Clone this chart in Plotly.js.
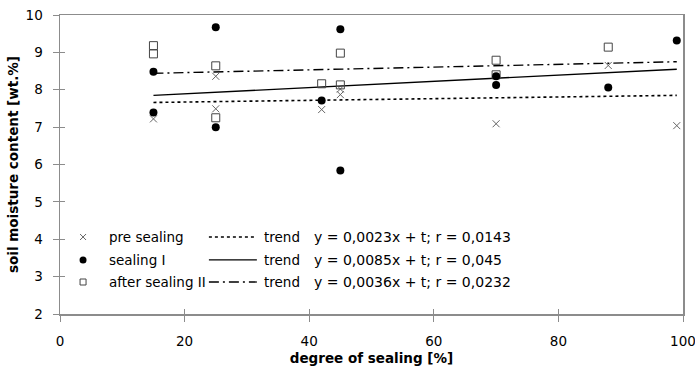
<!DOCTYPE html>
<html>
<head>
<meta charset="utf-8">
<script src="https://cdn.plot.ly/plotly-3.0.1.min.js"></script>
<style>html,body{margin:0;padding:0;background:#fff;}#chart{width:695px;height:376px;}</style>
</head>
<body>
<div id="chart"></div>
<script>
// ---- data ----
const preX   = [15, 25, 25, 42, 45, 45, 70, 88, 99];
const preY   = [7.22, 8.36, 7.49, 7.47, 8.02, 7.87, 7.09, 8.65, 7.04];
const sealX  = [15, 15, 25, 25, 42, 45, 45, 70, 70, 88, 99];
const sealY  = [8.48, 7.39, 9.67, 7.0, 7.71, 9.62, 5.84, 8.36, 8.13, 8.06, 9.32];
const afterX = [15, 15, 25, 25, 42, 45, 45, 70, 70, 88];
const afterY = [9.18, 8.96, 8.64, 7.25, 8.16, 8.98, 8.13, 8.79, 8.40, 9.14];
const trendX     = [15, 99];
const trendPre   = [7.66, 7.85];
const trendSeal  = [7.85, 8.55];
const trendAfter = [8.44, 8.75];
const seriesNames = ["pre sealing", "sealing I", "after sealing II"];
const trendLabels = ["y = 0,0023x + t; r = 0,0143", "y = 0,0085x + t; r = 0,045", "y = 0,0036x + t; r = 0,0232"];
const xTicks = [0, 20, 40, 60, 80, 100];
const yTicks = [2, 3, 4, 5, 6, 7, 8, 9, 10];

// ---- styles ----
const FONT = "DejaVu Sans, Arial, sans-serif";
const AX = "#8c8c8c";
const markerPre   = {symbol: "x-thin-open", size: 7, color: "#666", line: {color: "#666", width: 1}};
const markerSeal  = {symbol: "circle", size: 8, color: "#000"};
const markerAfter = {symbol: "square-open", size: 8, color: "#444", line: {color: "#444", width: 1}};
const linePre   = {color: "#000", width: 1.6, dash: "dot"};
const lineSeal  = {color: "#000", width: 1.4, dash: "solid"};
const lineAfter = {color: "#000", width: 1.4, dash: "10px,4px,2px,4px"};

const traces = [
  {x: trendX, y: trendPre, mode: "lines", line: linePre, hoverinfo: "skip"},
  {x: trendX, y: trendSeal, mode: "lines", line: lineSeal, hoverinfo: "skip"},
  {x: trendX, y: trendAfter, mode: "lines", line: lineAfter, hoverinfo: "skip"},
  {x: preX, y: preY, mode: "markers", marker: markerPre, name: seriesNames[0]},
  {x: afterX, y: afterY, mode: "markers", marker: markerAfter, name: seriesNames[2]},
  {x: sealX, y: sealY, mode: "markers", marker: markerSeal, name: seriesNames[1]}
];

// legend geometry (paper coords)
const rowsY = [0.2575, 0.181, 0.107];
const legMarkX = 0.037, legTextX = 0.0755, legLine0 = 0.239, legLine1 = 0.316, legTrendX = 0.324, legEqX = 0.405;
const legMarkers = [markerPre, markerSeal, markerAfter];
legMarkers.forEach((m, i) => {
  traces.push({x: [legMarkX], y: [rowsY[i]], xaxis: "x2", yaxis: "y2", mode: "markers",
    marker: Object.assign({}, m, i === 1 ? {size: 7} : {size: 6}), hoverinfo: "skip"});
});
// dummy trace to activate crossing-tick overlay axes
traces.push({x: [null], y: [null], xaxis: "x3", yaxis: "y3", mode: "markers", hoverinfo: "skip"});

const shapes = [];
const legLines = [linePre, lineSeal, lineAfter];
const annotations = [];
rowsY.forEach((yy, i) => {
  shapes.push({type: "line", xref: "paper", yref: "paper", x0: legLine0, x1: legLine1, y0: yy, y1: yy,
    line: Object.assign({}, legLines[i], {width: 1.3})});
  annotations.push({xref: "paper", yref: "paper", x: legTextX, y: yy, text: seriesNames[i], showarrow: false,
    xanchor: "left", yanchor: "middle", font: {family: FONT, size: 13.5, color: "#000"}});
  annotations.push({xref: "paper", yref: "paper", x: legTrendX, y: yy, text: "trend", showarrow: false,
    xanchor: "left", yanchor: "middle", font: {family: FONT, size: 13.5, color: "#000"}});
  annotations.push({xref: "paper", yref: "paper", x: legEqX, y: yy, text: trendLabels[i], showarrow: false,
    xanchor: "left", yanchor: "middle", font: {family: FONT, size: 14, color: "#000"}});
});

const layout = {
  width: 695, height: 376,
  margin: {l: 60, r: 12, t: 15, b: 62},
  paper_bgcolor: "#fff", plot_bgcolor: "#fff",
  showlegend: false,
  font: {family: FONT, size: 13.5, color: "#000"},
  xaxis: {
    range: [0, 100], tickvals: xTicks, ticktext: xTicks.map(String),
    showgrid: false, zeroline: false, showline: true, linecolor: AX, linewidth: 1.5, mirror: true,
    ticks: "outside", ticklen: 6, tickcolor: AX, tickwidth: 1, ticklabelstandoff: 8,
    ticklabeloverflow: "allow",
    title: {text: "<b>degree of sealing [%]</b>", font: {family: FONT, size: 13.5, color: "#000"}, standoff: 6},
    fixedrange: true
  },
  yaxis: {
    range: [2, 10], tickvals: yTicks, ticktext: yTicks.map(String),
    showgrid: false, zeroline: false, showline: true, linecolor: AX, linewidth: 1.5, mirror: true,
    ticks: "outside", ticklen: 6, tickcolor: AX, tickwidth: 1, ticklabelstandoff: 7,
    title: {text: "<b>soil moisture content [wt.%]</b>", font: {family: FONT, size: 13.5, color: "#000"}, standoff: 4},
    fixedrange: true
  },
  xaxis2: {overlaying: "x", range: [0, 1], visible: false, fixedrange: true},
  yaxis2: {overlaying: "y", range: [0, 1], visible: false, fixedrange: true},
  xaxis3: {overlaying: "x", anchor: "y3", range: [0, 100], tickvals: xTicks, showticklabels: false, ticks: "inside",
    ticklen: 5, tickcolor: AX, showgrid: false, zeroline: false, showline: false, fixedrange: true},
  yaxis3: {overlaying: "y", anchor: "x3", range: [2, 10], tickvals: yTicks, showticklabels: false, ticks: "inside",
    ticklen: 5, tickcolor: AX, showgrid: false, zeroline: false, showline: false, fixedrange: true},
  shapes: shapes,
  annotations: annotations
};

Plotly.newPlot("chart", traces, layout, {displayModeBar: false, staticPlot: true});
</script>
</body>
</html>
